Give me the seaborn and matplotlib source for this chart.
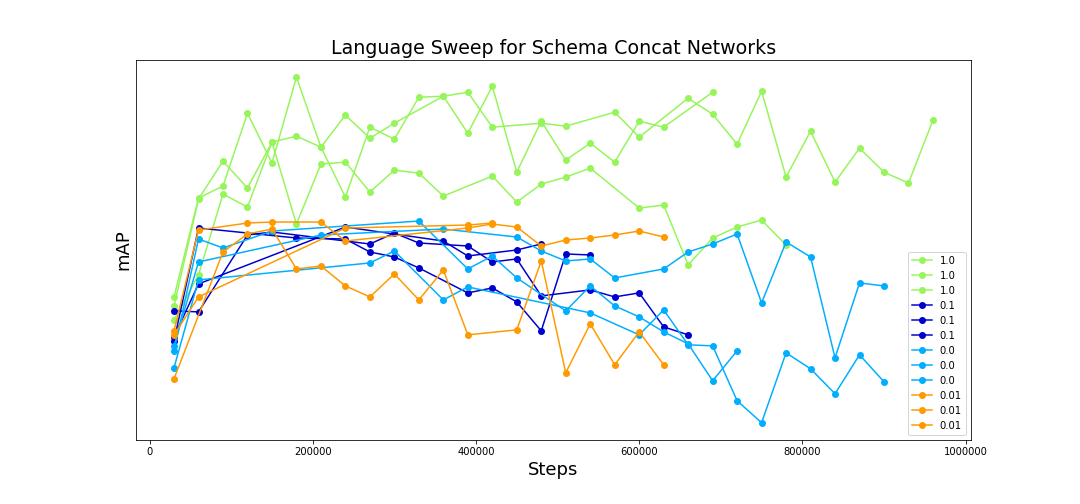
import matplotlib
matplotlib.use("Agg")
import matplotlib.pyplot as plt
import matplotlib.ticker as mticker
import seaborn as sns

g1_steps = [30, 60, 90, 120, 150, 180, 210, 240, 270, 300, 360, 390, 420, 480, 510, 570,
            600, 660, 690, 720, 750, 780, 810, 840, 870, 900, 930, 960]
g1_map = [0.202, 0.301, 0.313, 0.386, 0.336, 0.422, 0.352, 0.384, 0.361, 0.376, 0.403, 0.407,
          0.372, 0.376, 0.373, 0.387, 0.362, 0.401, 0.385, 0.355, 0.408, 0.322, 0.368, 0.317,
          0.351, 0.327, 0.316, 0.379]

g2_steps = [30, 60, 90, 120, 150, 180, 210, 240, 270, 300, 330, 360, 390, 420, 450, 480,
            510, 540, 570, 600, 630, 690]
g2_map = [0.193, 0.300, 0.338, 0.311, 0.357, 0.363, 0.352, 0.302, 0.372, 0.360, 0.402, 0.403,
          0.366, 0.413, 0.327, 0.378, 0.339, 0.356, 0.337, 0.378, 0.372, 0.407]

g3_steps = [30, 60, 90, 120, 150, 180, 210, 240, 270, 300, 330, 360, 420, 450, 480, 510,
            540, 600, 630, 660, 690, 720, 750, 780]
g3_map = [0.179, 0.224, 0.305, 0.292, 0.357, 0.275, 0.335, 0.337, 0.307, 0.329, 0.326, 0.303,
          0.323, 0.297, 0.315, 0.322, 0.331, 0.291, 0.294, 0.234, 0.261, 0.272, 0.279, 0.254]

d1_steps = [30, 60, 180, 240, 270, 300, 330, 390, 420, 450, 480, 510, 540]
d1_map = [0.158, 0.271, 0.261, 0.260, 0.247, 0.242, 0.231, 0.206, 0.211, 0.197, 0.168,
          0.245, 0.244]

d2_steps = [30, 60, 120, 150, 270, 300, 330, 390, 420, 450, 480, 540, 570, 600, 630, 660]
d2_map = [0.188, 0.187, 0.264, 0.267, 0.255, 0.266, 0.256, 0.253, 0.237, 0.240, 0.203,
          0.209, 0.202, 0.206, 0.172, 0.164]

d3_steps = [30, 60, 240, 360, 390, 450, 480]
d3_map = [0.162, 0.215, 0.272, 0.258, 0.243, 0.249, 0.255]

b1_steps = [30, 60, 210, 360, 450, 480, 510, 540, 570, 630, 660, 690, 720, 750, 780, 810,
            840, 870, 900]
b1_map = [0.153, 0.237, 0.264, 0.270, 0.262, 0.248, 0.238, 0.240, 0.221, 0.230, 0.247,
          0.255, 0.265, 0.196, 0.257, 0.242, 0.141, 0.216, 0.213]

b2_steps = [30, 60, 90, 150, 330, 390, 420, 450, 510, 540, 570, 600, 630, 660, 690, 720]
b2_map = [0.148, 0.260, 0.251, 0.268, 0.278, 0.230, 0.243, 0.221, 0.188, 0.213, 0.193,
          0.182, 0.167, 0.155, 0.118, 0.148]

b3_steps = [30, 60, 270, 300, 360, 390, 540, 600, 630, 660, 690, 720, 750, 780, 810, 840,
            870, 900]
b3_map = [0.131, 0.219, 0.236, 0.248, 0.199, 0.212, 0.186, 0.164, 0.189, 0.154, 0.153,
          0.098, 0.076, 0.146, 0.130, 0.105, 0.144, 0.117]

o1_steps = [30, 60, 120, 150, 210, 240, 390, 420, 450, 480, 510, 540, 570, 600, 630]
o1_map = [0.168, 0.269, 0.276, 0.277, 0.277, 0.258, 0.271, 0.275, 0.272, 0.253, 0.259,
          0.261, 0.264, 0.268, 0.262]

o2_steps = [30, 90, 120, 150, 180, 210, 240, 270, 300, 330, 360, 390, 450, 480, 510, 540,
            570, 600, 630]
o2_map = [0.120, 0.247, 0.265, 0.270, 0.230, 0.233, 0.213, 0.202, 0.225, 0.199, 0.229,
          0.164, 0.169, 0.238, 0.126, 0.175, 0.134, 0.167, 0.134]

o3_steps = [30, 60, 240, 390, 420]
o3_map = [0.164, 0.202, 0.271, 0.274, 0.276]

series = [
    (g1_steps, g1_map, "1.0"), (g2_steps, g2_map, "1.0"), (g3_steps, g3_map, "1.0"),
    (d1_steps, d1_map, "0.1"), (d2_steps, d2_map, "0.1"), (d3_steps, d3_map, "0.1"),
    (b1_steps, b1_map, "0.0"), (b2_steps, b2_map, "0.0"), (b3_steps, b3_map, "0.0"),
    (o1_steps, o1_map, "0.01"), (o2_steps, o2_map, "0.01"), (o3_steps, o3_map, "0.01"),
]
colors = {"1.0": "#96f55a", "0.1": "#0000cd", "0.0": "#00aeff", "0.01": "#ff9900"}

fig, ax = plt.subplots(figsize=(15, 7), dpi=72)
fig.subplots_adjust(left=0.126, right=0.899, bottom=0.127, top=0.881)

for steps, vals, lab in series:
    sns.lineplot(x=[s * 1000 for s in steps], y=vals, ax=ax, color=colors[lab],
                 marker="o", markersize=7, markeredgewidth=0, linewidth=1.5,
                 label=lab, sort=False)

ax.set_title("Language Sweep for Schema Concat Networks", fontsize=19)
ax.set_xlabel("Steps", fontsize=18)
ax.set_ylabel("mAP", fontsize=18)
ax.set_yticks([])
ax.xaxis.set_major_locator(mticker.MultipleLocator(200000))
ax.xaxis.set_major_formatter(mticker.FormatStrFormatter("%d"))
ax.tick_params(axis="x", labelsize=10)
ax.legend(loc="lower right", fontsize=10)

plt.savefig("out.png", dpi=72)
